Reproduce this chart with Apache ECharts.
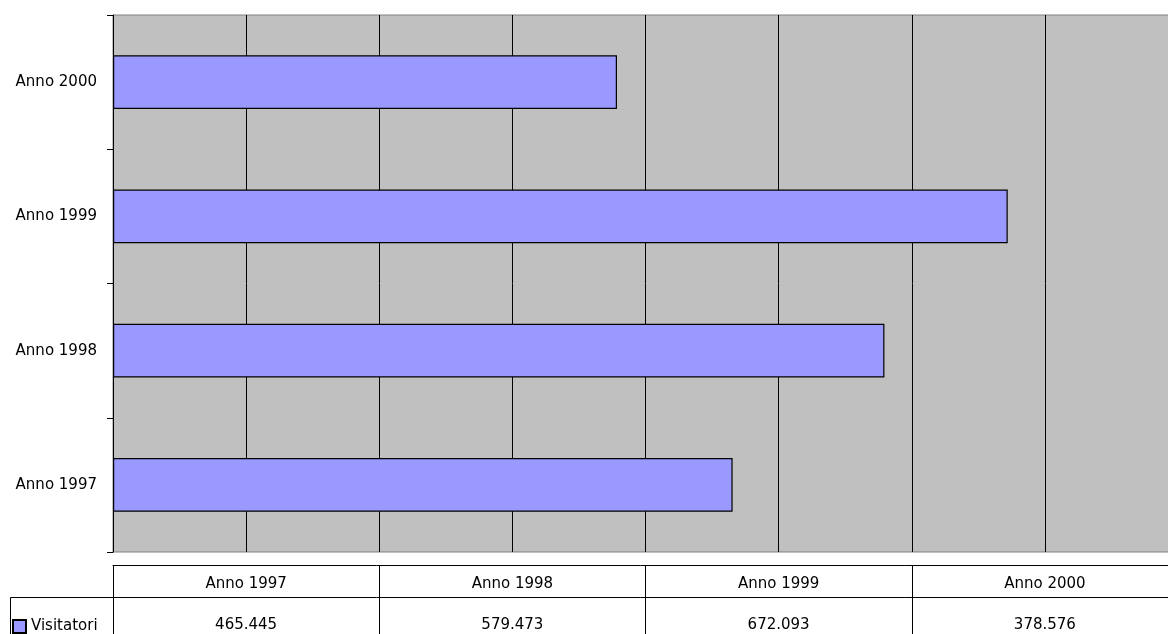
<!DOCTYPE html>
<html>
<head>
<meta charset="utf-8">
<style>
  html, body { margin: 0; padding: 0; background: #ffffff; }
  #chart { width: 1168px; height: 634px; }
</style>
<script src="https://cdn.jsdelivr.net/npm/echarts@6/dist/echarts.min.js"></script>
</head>
<body>
<div id="chart"></div>
<script>
// Data
const categories = ['Anno 1997', 'Anno 1998', 'Anno 1999', 'Anno 2000'];
const seriesName = 'Visitatori';
const visitatori = [465445, 579473, 672093, 378576];
const axisMax = 800000;
const axisInterval = 100000;

function fmtIt(v) {
  return String(v).replace(/\B(?=(\d{3})+(?!\d))/g, '.');
}

const FONT = '"Comic Sans MS", "DejaVu Sans", sans-serif';
const FS = 15;
const chart = echarts.init(document.getElementById('chart'), null, { renderer: 'canvas' });

chart.setOption({
  animation: false,
  backgroundColor: '#ffffff',
  textStyle: { fontFamily: FONT },
  legend: {
    data: [seriesName],
    left: 12, top: 619,
    icon: 'rect', itemWidth: 13, itemHeight: 13,
    textStyle: { color: '#000', fontSize: FS, fontFamily: FONT },
    padding: 0
  },
  grid: [
    { left: 113, width: 1065, top: 15, bottom: 82, outerBoundsMode: 'none', containLabel: false, show: true, backgroundColor: '#c0c0c0', borderColor: '#808080', borderWidth: 1 },
    { left: 113, width: 1065, top: 565, height: 32, outerBoundsMode: 'none', containLabel: false, show: false }
  ],
  xAxis: [
    {
      type: 'value', gridIndex: 0, min: 0, max: axisMax, interval: axisInterval,
      axisLabel: { show: false }, axisTick: { show: false }, axisLine: { show: false },
      splitLine: { show: true, lineStyle: { color: '#000', width: 1 } }
    },
    {
      type: 'category', gridIndex: 1, position: 'top', data: categories,
      axisLine: { show: true, onZero: false, lineStyle: { color: '#000', width: 1 } },
      axisTick: { show: false },
      axisLabel: { inside: true, margin: 12, color: '#000', fontSize: FS, fontFamily: FONT },
      splitLine: { show: true, lineStyle: { color: '#000', width: 1 } }
    },
    {
      type: 'category', gridIndex: 1, position: 'bottom', data: categories,
      axisLine: { show: true, onZero: false, lineStyle: { color: '#000', width: 1 } },
      axisTick: { show: true, length: 60, interval: 0, lineStyle: { color: '#000', width: 1 } },
      axisLabel: {
        margin: 21, color: '#000', fontSize: FS, fontFamily: FONT,
        formatter: function (v) { return fmtIt(visitatori[categories.indexOf(v)]); }
      },
      splitLine: { show: false }
    }
  ],
  yAxis: [
    {
      type: 'category', gridIndex: 0, data: categories,
      axisLine: { show: true, lineStyle: { color: '#000', width: 1 } },
      axisTick: { show: true, length: 6, lineStyle: { color: '#000', width: 1 } },
      axisLabel: { color: '#000', fontSize: FS, margin: 16, fontFamily: FONT },
      splitLine: { show: false }
    },
    { type: 'value', gridIndex: 1, show: false }
  ],
  series: [
    {
      name: seriesName, type: 'bar', xAxisIndex: 0, yAxisIndex: 0,
      data: visitatori, barCategoryGap: '60%',
      itemStyle: { color: '#9999ff', borderColor: '#000', borderWidth: 1.2 }
    }
  ],
  graphic: [
    {
      type: 'polyline', silent: true,
      shape: { points: [[10.5, 640], [10.5, 597.5], [113, 597.5]] },
      style: { stroke: '#000', lineWidth: 1, fill: null }
    }
  ]
});
</script>
</body>
</html>
